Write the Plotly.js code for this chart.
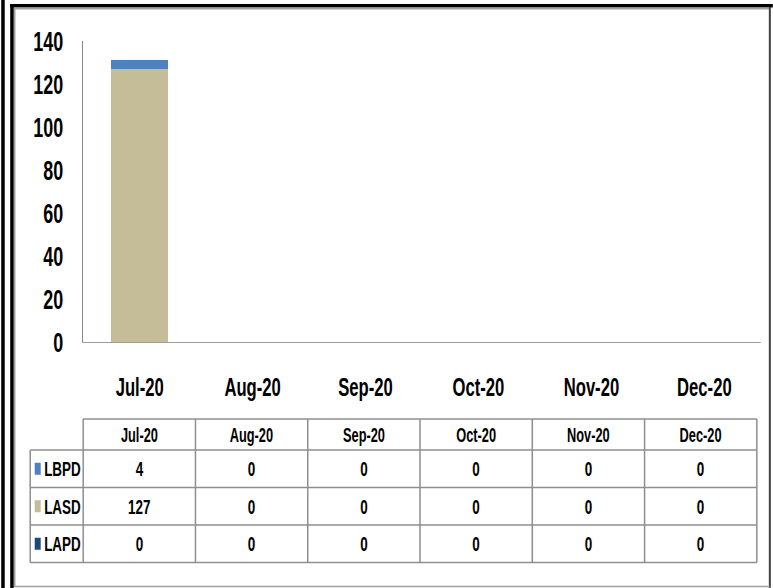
<!DOCTYPE html>
<html>
<head>
<meta charset="utf-8">
<script src="https://cdn.plot.ly/plotly-3.0.1.min.js"></script>
<style>
html,body{margin:0;padding:0;background:#fff;overflow:hidden;width:773px;height:588px;}
#wrap{width:773px;height:588px;overflow:hidden;position:relative;}
#chart{position:absolute;left:0;top:0;transform-origin:0 0;}
</style>
</head>
<body>
<div id="wrap"><div id="chart"></div></div>
<script>
// ---- data ----
const months = ['Jul-20', 'Aug-20', 'Sep-20', 'Oct-20', 'Nov-20', 'Dec-20'];
const seriesNames = ['LBPD', 'LASD', 'LAPD'];
const lbpd = [4, 0, 0, 0, 0, 0];
const lasd = [127, 0, 0, 0, 0, 0];
const lapd = [0, 0, 0, 0, 0, 0];
const yTicks = [0, 20, 40, 60, 80, 100, 120, 140];

// ---- styles ----
const colors = {LBPD: '#4F81BD', LASD: '#C4BD97', LAPD: '#1F497D'};
const FONT = 'Liberation Sans, Arial, sans-serif';

// The original uses a narrow bold face; draw wider and squeeze horizontally.
const W = 773, H = 588;
const VW = 1208;               // virtual drawing width
const S = W / VW;              // horizontal squeeze
document.getElementById('chart').style.transform = 'scaleX(' + S + ')';

// plot area in real pixels
const L = 83, R = 761, T = 41, B = 342;
const px = x => (x - L) / (R - L);
const py = y => (B - y) / (B - T);
const vw = w => w / S;         // vertical line widths compensate squeeze

const valuesBySeries = {LBPD: lbpd, LASD: lasd, LAPD: lapd};

// stacked bars: bottom first
const traces = ['LAPD', 'LASD', 'LBPD'].map(name => ({
  type: 'bar',
  name: name,
  x: months,
  y: valuesBySeries[name],
  marker: {color: colors[name], line: {width: 0}},
  hoverinfo: 'x+y+name',
  showlegend: false
}));

const shapes = [];
const annotations = [];
const gray = '#8E8E8E';
const P = {xref: 'paper', yref: 'paper'};

// outer frame
shapes.push(Object.assign({type: 'rect', x0: px(1), x1: px(4.5), y0: py(0), y1: py(H), fillcolor: '#000', line: {width: 0}, layer: 'above'}, P));
shapes.push(Object.assign({type: 'rect', x0: px(10), x1: px(13.5), y0: py(4), y1: py(H), fillcolor: '#000', line: {width: 0}, layer: 'above'}, P));
shapes.push(Object.assign({type: 'rect', x0: px(10), x1: px(W), y0: py(4), y1: py(7.5), fillcolor: '#000', line: {width: 0}, layer: 'above'}, P));
shapes.push(Object.assign({type: 'line', x0: px(14), x1: px(770), y0: py(8.5), y1: py(8.5), line: {color: '#A0A0A0', width: 2}}, P));
shapes.push(Object.assign({type: 'line', x0: px(14.5), x1: px(14.5), y0: py(8), y1: py(587), line: {color: '#A0A0A0', width: vw(1.5)}}, P));
shapes.push(Object.assign({type: 'line', x0: px(770), x1: px(770), y0: py(7), y1: py(588), line: {color: '#404040', width: vw(2)}}, P));
shapes.push(Object.assign({type: 'line', x0: px(14), x1: px(770), y0: py(586.5), y1: py(586.5), line: {color: '#A0A0A0', width: 1.5}}, P));

// data table
const tL = 30, tC0 = 83, tR = 757;
const colW = (tR - tC0) / months.length;
const hTop = 419, hBot = 450, rowH = 37.5;
const tBot = hBot + rowH * seriesNames.length;
const hLine = {color: gray, width: 1.5};
const vLine = {color: gray, width: vw(1.5)};
shapes.push(Object.assign({type: 'line', x0: px(tC0), x1: px(tR), y0: py(hTop), y1: py(hTop), line: hLine}, P));
for (let r = 0; r <= seriesNames.length; r++) {
  const y = hBot + r * rowH;
  shapes.push(Object.assign({type: 'line', x0: px(tL), x1: px(tR), y0: py(y), y1: py(y), line: hLine}, P));
}
shapes.push(Object.assign({type: 'line', x0: px(tL), x1: px(tL), y0: py(hBot), y1: py(tBot), line: vLine}, P));
for (let c = 0; c <= months.length; c++) {
  const x = tC0 + c * colW;
  shapes.push(Object.assign({type: 'line', x0: px(x), x1: px(x), y0: py(hTop), y1: py(tBot), line: vLine}, P));
}
const cellFont = size => ({family: FONT, size: size, color: '#000', weight: 'bold'});
months.forEach((m, c) => {
  annotations.push(Object.assign({x: px(tC0 + (c + 0.5) * colW), y: py((hTop + hBot) / 2),
    text: m, showarrow: false, xanchor: 'center', yanchor: 'middle', font: cellFont(20)}, P));
});
seriesNames.forEach((name, r) => {
  const yc = hBot + (r + 0.5) * rowH;
  shapes.push(Object.assign({type: 'rect', x0: px(34.5), x1: px(40.5), y0: py(yc - 6), y1: py(yc + 6),
    fillcolor: colors[name], line: {width: 0}}, P));
  annotations.push(Object.assign({x: px(42.5), y: py(yc), text: name, showarrow: false,
    xanchor: 'left', yanchor: 'middle', font: cellFont(21)}, P));
  valuesBySeries[name].forEach((v, c) => {
    annotations.push(Object.assign({x: px(tC0 + (c + 0.5) * colW), y: py(yc), text: String(v),
      showarrow: false, xanchor: 'center', yanchor: 'middle', font: cellFont(21)}, P));
  });
});

const layout = {
  width: VW, height: H,
  margin: {l: L / S, r: (W - R) / S, t: T, b: H - B, pad: 0},
  paper_bgcolor: '#fff', plot_bgcolor: '#fff',
  barmode: 'stack', bargap: 0.5,
  showlegend: false,
  xaxis: {
    type: 'category', showgrid: false, zeroline: false,
    showline: true, linecolor: '#868686', linewidth: 1,
    ticks: '', ticklabelstandoff: 22,
    tickfont: {family: FONT, size: 26, color: '#000', weight: 'bold'},
    fixedrange: true
  },
  yaxis: {
    range: [0, 140], tickvals: yTicks, showgrid: false, zeroline: false,
    showline: true, linecolor: '#868686', linewidth: vw(1),
    ticks: '', ticklabelstandoff: 24,
    tickfont: {family: FONT, size: 28, color: '#000', weight: 'bold'},
    fixedrange: true
  },
  shapes: shapes,
  annotations: annotations
};

Plotly.newPlot('chart', traces, layout, {displayModeBar: false, staticPlot: true});
</script>
</body>
</html>
